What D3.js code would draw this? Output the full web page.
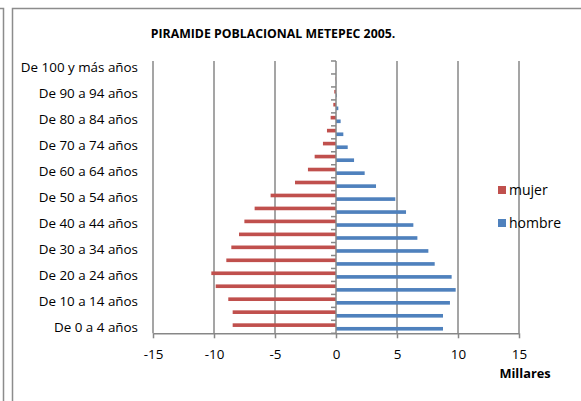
<!DOCTYPE html>
<html>
<head>
<meta charset="utf-8">
<script src="https://cdn.jsdelivr.net/npm/d3@7"></script>
<style>
  html, body { margin: 0; padding: 0; background: #fff; }
  svg { display: block; }
  text { font-family: "Open Sans", Carlito, Lato, sans-serif; fill: #000; }
</style>
</head>
<body>
<svg id="chart" width="581" height="401"></svg>
<script>
// Age groups, bottom to top
const categories = [
  "De 0 a 4 años", "De 5 a 9 años", "De 10 a 14 años", "De 15 a 19 años",
  "De 20 a 24 años", "De 25 a 29 años", "De 30 a 34 años", "De 35 a 39 años",
  "De 40 a 44 años", "De 45 a 49 años", "De 50 a 54 años", "De 55 a 59 años",
  "De 60 a 64 años", "De 65 a 69 años", "De 70 a 74 años", "De 75 a 79 años",
  "De 80 a 84 años", "De 85 a 89 años", "De 90 a 94 años", "De 95 a 99 años",
  "De 100 y más años"
];
// Population in thousands; women plotted to the left (negative)
const mujer = [
  -8.47, -8.47, -8.83, -9.86, -10.22, -8.99, -8.58, -7.95, -7.51, -6.67,
  -5.36, -3.36, -2.30, -1.75, -1.07, -0.74, -0.44, -0.22, -0.14, -0.03, -0.01
];
const hombre = [
  8.77, 8.77, 9.34, 9.81, 9.48, 8.09, 7.57, 6.67, 6.34, 5.74,
  4.86, 3.28, 2.35, 1.48, 0.96, 0.60, 0.38, 0.19, 0.06, 0.02, 0.01
];
const xTicks = [-15, -10, -5, 0, 5, 10, 15];
const seriesNames = ["mujer", "hombre"];
const colors = { mujer: "#C0504D", hombre: "#4F81BD" };

const svg = d3.select("#chart");
const frameColor = "#8c8c8c";
const axisColor = "#878787";

// neighbouring frame edge and chart frame
svg.append("path")
  .attr("d", "M0,8.5 H3.5 V401")
  .attr("fill", "none").attr("stroke", frameColor).attr("stroke-width", 1.5);
svg.append("path")
  .attr("d", "M12.5,401 V8.5 H581")
  .attr("fill", "none").attr("stroke", frameColor).attr("stroke-width", 1.5);

const plot = { left: 153, right: 519, top: 61, bottom: 333.3 };

const x = d3.scaleLinear().domain([-15, 15]).range([plot.left, plot.right]);
const y = d3.scaleBand()
  .domain(categories.slice().reverse())
  .range([plot.top, plot.bottom])
  .padding(0);
const bw = y.bandwidth();

// title
svg.append("text")
  .attr("x", 273).attr("y", 38)
  .attr("text-anchor", "middle")
  .attr("font-size", 12.3).attr("font-weight", "bold")
  .text("PIRAMIDE POBLACIONAL METEPEC 2005.");

// vertical gridlines
svg.append("g").selectAll("line")
  .data(xTicks.filter(d => d !== 0))
  .join("line")
  .attr("x1", d => x(d)).attr("x2", d => x(d))
  .attr("y1", plot.top).attr("y2", plot.bottom)
  .attr("stroke", axisColor).attr("stroke-width", 1.5);

// bars: mujer on the upper half of each group, hombre below
const groupTop = bw * 0.23, barH = bw * 0.28;
const rows = categories.map((c, i) => ({ c, mujer: mujer[i], hombre: hombre[i] }));
const bars = svg.append("g");
seriesNames.forEach((s, k) => {
  bars.selectAll(null)
    .data(rows)
    .join("rect")
    .attr("x", d => x(Math.min(0, d[s])))
    .attr("width", d => Math.abs(x(d[s]) - x(0)))
    .attr("y", d => y(d.c) + groupTop + k * barH)
    .attr("height", barH)
    .attr("fill", colors[s]);
});

// category axis at zero, ticks pointing left at group boundaries
const ya = svg.append("g").attr("transform", `translate(${x(0)},0)`);
ya.append("line")
  .attr("x1", 0).attr("x2", 0).attr("y1", plot.top).attr("y2", plot.bottom)
  .attr("stroke", axisColor).attr("stroke-width", 1.5);
ya.selectAll(".tk")
  .data(d3.range(categories.length + 1))
  .join("line")
  .attr("x1", -5).attr("x2", 0)
  .attr("y1", i => plot.bottom - i * bw).attr("y2", i => plot.bottom - i * bw)
  .attr("stroke", axisColor).attr("stroke-width", 1.5);

// category labels (every other group) at the left side
svg.append("g").selectAll("text")
  .data(categories.filter((c, i) => i % 2 === 0))
  .join("text")
  .attr("x", 138)
  .attr("y", d => y(d) + bw / 2)
  .attr("dy", "0.35em")
  .attr("text-anchor", "end")
  .attr("font-size", 13.4)
  .text(d => d);

// value axis at bottom
const xAxis = d3.axisBottom(x).tickValues(xTicks).tickFormat(d => String(d))
  .tickSize(5).tickSizeOuter(0).tickPadding(11);
const xa = svg.append("g").attr("transform", `translate(0,${plot.bottom})`).call(xAxis);
xa.select(".domain").attr("stroke", axisColor).attr("stroke-width", 1.5);
xa.selectAll(".tick line").attr("stroke", axisColor).attr("stroke-width", 1.5);
xa.selectAll(".tick text")
  .attr("font-size", 13.4)
  .attr("font-family", "'Open Sans', Carlito, Lato, sans-serif")
  .attr("fill", "#000");

svg.append("text")
  .attr("x", 525).attr("y", 378)
  .attr("text-anchor", "middle")
  .attr("font-size", 12.8).attr("font-weight", "bold")
  .text("Millares");

// legend
const legend = svg.append("g");
seriesNames.forEach((s, k) => {
  const ly = 190 + k * 33;
  legend.append("rect")
    .attr("x", 498).attr("y", ly - 4).attr("width", 8).attr("height", 8)
    .attr("fill", colors[s]);
  legend.append("text")
    .attr("x", 509).attr("y", ly).attr("dy", "0.35em")
    .attr("font-size", 14)
    .text(s);
});
</script>
</body>
</html>
